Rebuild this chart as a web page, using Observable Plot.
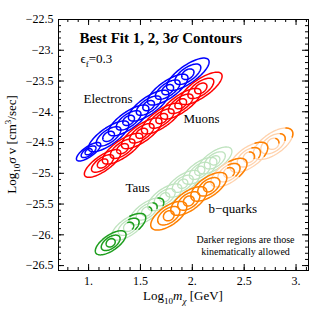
<!DOCTYPE html>
<html><head><meta charset="utf-8">
<script src="https://cdn.jsdelivr.net/npm/d3@7"></script>
<script src="https://cdn.jsdelivr.net/npm/@observablehq/plot@0.6"></script>
<style>body{margin:0;background:#fff} svg{display:block} svg text{font-family:"Liberation Serif","Times New Roman",serif !important;}</style>
</head><body><div id="chart"></div>
<script>
// ---- axes ----
const xTicks = [1, 1.5, 2, 2.5, 3];
const xTickLabels = ["1.", "1.5", "2.", "2.5", "3."];
const yTicks = [-26.5, -26, -25.5, -25, -24.5, -24, -23.5, -23, -22.5];
const yTickLabels = ["−26.5", "−26.", "−25.5", "−25.", "−24.5", "−24.", "−23.5", "−23.", "−22.5"];
const xDomain = [0.71, 3.12];
const yDomain = [-26.58, -22.5];

// ---- best-fit centres (log10 m, log10 sigma v) ----
const electronX = [1.00, 1.193, 1.386, 1.579, 1.763, 1.957];
const electronY = [-24.65, -24.40, -24.14, -23.90, -23.64, -23.39];
const electronScale = [0.6, 1, 1, 1, 1, 1.05];
const muonX = [1.135, 1.328, 1.512, 1.705, 1.888, 2.082];
const muonY = [-24.84, -24.60, -24.35, -24.11, -23.87, -23.62];
const muonScale = [0.9, 1, 1, 1, 1, 1.05];
const tauX = [1.213, 1.386, 1.560, 1.734, 1.908, 2.072, 2.217];
const tauY = [-26.13, -25.87, -25.62, -25.39, -25.17, -24.96, -24.79];
const tauScale = [0.9, 1, 1, 1, 1, 1, 1];
const tauAllowed = [-1, 0.35, 0.85, 1, 1, 1, 1];     // cut: part of contour kinematically allowed
const bX = [1.773, 1.966, 2.159, 2.353, 2.545, 2.778];
const bY = [-25.69, -25.45, -25.22, -24.99, -24.74, -24.52];
const bScale = [1, 1, 1, 1, 1.05, 1.1];
const bAllowed = [-1, -1, -1, 0.3, 0.6, 0.85];

// ---- layout / style ----
const FONT = "Liberation Serif";
const W = 315, H = 312, mL = 58, mR = 7, mT = 19, mB = 42;
const FW = W - mL - mR, FH = H - mT - mB;
const kx = FW / (xDomain[1] - xDomain[0]);
const ky = FH / (yDomain[1] - yDomain[0]);
const theta = 35 * Math.PI / 180;
const levels = [{fa: 0.27, fb: 0.5}, {fa: 0.6, fb: 0.74}, {fa: 1, fb: 1}];

const series = [
  {name: "e", X: electronX, Y: electronY, S: electronScale, cut: null, a: 24, b: 8.5, dark: "#0000ff", light: "#0000ff"},
  {name: "mu", X: muonX, Y: muonY, S: muonScale, cut: null, a: 24, b: 8.5, dark: "#ff0000", light: "#ff0000"},
  {name: "tau", X: tauX, Y: tauY, S: tauScale, cut: tauAllowed, a: 20, b: 8.5, dark: "#1d9e1d", light: "#bfe3bf"},
  {name: "b", X: bX, Y: bY, S: bScale, cut: bAllowed, a: 21, b: 9.5, dark: "#ff8000", light: "#ffd2ad"}
];

const lightPts = [];
const darkBy = {};
let id = 0;
function arc(out, color, cx, cy, a, b, t0, t1) {
  const n = 72, key = "c" + (id++);
  for (let i = 0; i <= n; i++) {
    const t = t0 + (t1 - t0) * i / n;
    const u = a * Math.cos(t), v = b * Math.sin(t);
    const px = u * Math.cos(theta) - v * Math.sin(theta);
    const py = u * Math.sin(theta) + v * Math.cos(theta);
    out.push({x: cx + px / kx, y: cy + py / ky, id: key, c: color});
  }
}
series.forEach(s => {
  darkBy[s.name] = [];
  s.X.forEach((cx, i) => {
    const cy = s.Y[i];
    const cut = s.cut ? s.cut[i] : -1;
    levels.forEach(L => {
      const a = s.a * L.fa * s.S[i], b = s.b * L.fb * s.S[i];
      if (cut <= -1) {
        arc(darkBy[s.name], s.dark, cx, cy, a, b, 0, 2 * Math.PI);
      } else {
        arc(lightPts, s.light, cx, cy, a, b, 0, 2 * Math.PI);
        if (cut < 1) {
          const tc = Math.acos(cut);
          arc(darkBy[s.name], s.dark, cx, cy, a, b, -tc, tc);
        }
      }
    });
  });
});
const allDark = [...darkBy.tau, ...darkBy.b, ...darkBy.e, ...darkBy.mu];

const xMinor = d3.range(0.8, 3.11, 0.1).map(d => +d.toFixed(2));
const yMinor = d3.range(-26.5, -22.49, 0.1).map(d => +d.toFixed(2));
const tickLenMajor = 6, tickLenMinor = 3;
const txt = (label, x, y, o = {}) => Plot.text([label], {x, y, text: d => d, textAnchor: "start", lineAnchor: "bottom", fontSize: 13, fontFamily: FONT, fill: "black", ...o});

const plot = Plot.plot({
  width: W, height: H,
  marginLeft: mL, marginRight: mR, marginTop: mT, marginBottom: mB,
  x: {domain: xDomain, label: null},
  y: {domain: yDomain, label: null},
  color: {type: "identity"},
  style: {fontFamily: FONT, fontSize: "12px", background: "white", color: "black"},
  marks: [
    Plot.line(lightPts, {x: "x", y: "y", z: "id", stroke: "c", strokeWidth: 1.3}),
    Plot.line(allDark, {x: "x", y: "y", z: "id", stroke: "c", strokeWidth: 1.5}),
    Plot.frame({stroke: "black", strokeWidth: 1}),
    Plot.tickX(xMinor, {x: d => d, insetTop: FH - tickLenMinor, stroke: "black"}),
    Plot.tickX(xMinor, {x: d => d, insetBottom: FH - tickLenMinor, stroke: "black"}),
    Plot.tickX(xTicks, {x: d => d, insetTop: FH - tickLenMajor, stroke: "black"}),
    Plot.tickX(xTicks, {x: d => d, insetBottom: FH - tickLenMajor, stroke: "black"}),
    Plot.tickY(yMinor, {y: d => d, insetRight: FW - tickLenMinor, stroke: "black"}),
    Plot.tickY(yMinor, {y: d => d, insetLeft: FW - tickLenMinor, stroke: "black"}),
    Plot.tickY(yTicks, {y: d => d, insetRight: FW - tickLenMajor, stroke: "black"}),
    Plot.tickY(yTicks, {y: d => d, insetLeft: FW - tickLenMajor, stroke: "black"}),
    Plot.axisX(xTicks, {tickSize: 0, tickPadding: 6, fontSize: 12, fontFamily: FONT, tickFormat: d => xTickLabels[xTicks.indexOf(d)], label: null}),
    Plot.axisY(yTicks, {tickSize: 0, tickPadding: 5, fontSize: 12, fontFamily: FONT, tickFormat: d => yTickLabels[yTicks.indexOf(d)], label: null}),
    txt("TITLE", 0.912, -22.89, {fontSize: 15, fontWeight: "bold"}),
    txt("EPS", 0.922, -23.215),
    txt("Electrons", 0.951, -23.85),
    txt("Muons", 1.915, -24.19),
    txt("Taus", 1.356, -25.31),
    txt("b−quarks", 2.156, -25.65),
    txt("Darker regions are those", 2.513, -26.14, {textAnchor: "middle", fontSize: 10}),
    txt("kinematically allowed", 2.513, -26.33, {textAnchor: "middle", fontSize: 10})
  ]
});
document.getElementById("chart").appendChild(plot);

function rich(sel, parts, size) {
  sel.text(null);
  let shift = 0;
  parts.forEach(p => {
    const ts = sel.append("tspan").text(p.t);
    const target = p.sub ? Math.round(size * 0.28) : p.sup ? -Math.round(size * 0.38) : 0;
    if (target !== shift) { ts.attr("dy", target - shift); shift = target; }
    if (p.sub || p.sup) ts.attr("font-size", Math.round(size * 0.7));
    if (p.i) ts.attr("font-style", "italic");
  });
}
const svg = d3.select(plot);
svg.selectAll("text").filter(function() { return this.textContent === "TITLE"; })
  .each(function() { rich(d3.select(this), [{t: "Best Fit 1, 2, 3"}, {t: "σ", i: true}, {t: " Contours"}], 15); });
svg.selectAll("text").filter(function() { return this.textContent === "EPS"; })
  .each(function() { rich(d3.select(this), [{t: "ϵ"}, {t: "f", sub: true}, {t: "=0.3"}], 13); });

const xl = svg.append("text").attr("x", mL + FW / 2).attr("y", 300)
  .attr("text-anchor", "middle").attr("font-size", 13).attr("font-family", FONT).attr("fill", "black");
rich(xl, [{t: "Log"}, {t: "10", sub: true}, {t: "m", i: true}, {t: "χ", sub: true, i: true}, {t: " [GeV]"}], 13);
const yl = svg.append("text").attr("transform", `translate(16,${mT + FH / 2}) rotate(-90)`)
  .attr("text-anchor", "middle").attr("font-size", 13).attr("font-family", FONT).attr("fill", "black");
rich(yl, [{t: "Log"}, {t: "10", sub: true}, {t: "σ", i: true}, {t: " v [cm"}, {t: "3", sup: true}, {t: "/sec]"}], 13);
svg.selectAll("text").attr("font-family", FONT);
</script>
</body></html>
